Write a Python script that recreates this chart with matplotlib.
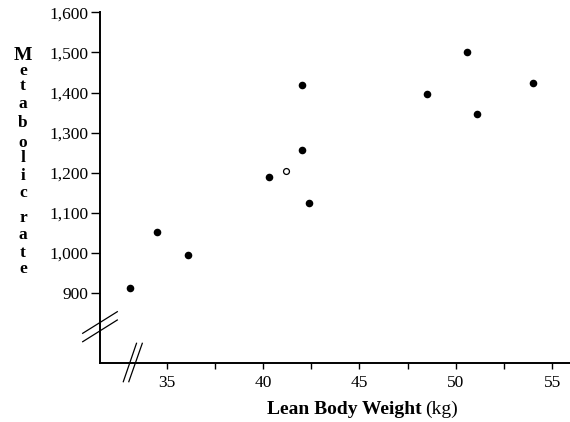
import matplotlib
matplotlib.use("Agg")
import matplotlib.pyplot as plt
from matplotlib.lines import Line2D

plt.rcParams["font.family"] = ["Liberation Serif", "DejaVu Serif"]

# lean body weight (kg) and metabolic rate
lean_mass = [36.1, 54.0, 48.5, 42.0, 50.6, 42.0, 40.3, 33.1, 42.4, 34.5, 51.1]
metabolic = [995, 1425, 1396, 1418, 1502, 1256, 1189, 913, 1124, 1052, 1347]
# the one open-circle point
open_mass = [41.2]
open_rate = [1204]

x_ticks = [32.5, 35, 37.5, 40, 42.5, 45, 47.5, 50, 52.5, 55]
x_labels = ["", "35", "", "40", "", "45", "", "50", "", "55"]
y_ticks = [900, 1000, 1100, 1200, 1300, 1400, 1500, 1600]
y_labels = ["900", "1,000", "1,100", "1,200", "1,300", "1,400", "1,500", "1,600"]

W, H = 570, 422
fig = plt.figure(figsize=(W / 100, H / 100), dpi=100)
ax = fig.add_axes([100 / W, (H - 362.7) / H, 470 / W, (362.7 - 12.3) / H])

ax.scatter(lean_mass, metabolic, s=30, color="black", zorder=3, linewidths=0)
ax.scatter(open_mass, open_rate, s=18, facecolor="white", edgecolor="black",
           linewidths=0.9, zorder=3)

ax.set_xlim(31.53, 55.93)
ax.set_ylim(726.5, 1600)
ax.set_xticks(x_ticks)
ax.set_xticklabels(x_labels)
ax.set_yticks(y_ticks)
ax.set_yticklabels(y_labels)
ax.tick_params(axis="x", direction="out", length=4.5, width=1, pad=4.5, labelsize=12.5)
ax.tick_params(axis="y", direction="out", length=6.5, width=1, pad=2, labelsize=12.5)
# drop the 32.5 tick (lies in the axis break)
ax.xaxis.get_major_ticks()[0].tick1line.set_visible(False)

for s in ["top", "right"]:
    ax.spines[s].set_visible(False)
for s in ["left", "bottom"]:
    ax.spines[s].set_linewidth(1.4)


def px(x, y):
    return x / W, (H - y) / H


# axis break marks
for (x0, y0, x1, y1) in [(82.7, 333.3, 117.3, 311.7), (82.7, 341.7, 117.3, 320.0),
                         (123.3, 381.7, 136.5, 343.3), (128.8, 381.7, 142.3, 343.3)]:
    a, b = px(x0, y0)
    c, d = px(x1, y1)
    fig.add_artist(Line2D([a, c], [b, d], color="black", lw=0.9))

# x label: bold part + regular unit
xa, ya = px(421.5, 414)
fig.text(xa, ya, "Lean Body Weight", fontsize=14, fontweight="bold",
         ha="right", va="baseline")
xb, _ = px(425.5, 414)
fig.text(xb, ya, "(kg)", fontsize=14, ha="left", va="baseline")

# stacked y label
letters = ["M", "e", "t", "a", "b", "o", "l", "i", "c", "r", "a", "t", "e"]
baselines = [60, 75, 90, 108, 127, 147, 162, 180, 197, 222, 239, 257, 273]
for ch, yb in zip(letters, baselines):
    tx, ty = px(23, yb)
    fig.text(tx, ty, ch, fontsize=14 if ch == "M" else 12.5, fontweight="bold",
             ha="center", va="baseline")

fig.savefig("out.png", dpi=100)
